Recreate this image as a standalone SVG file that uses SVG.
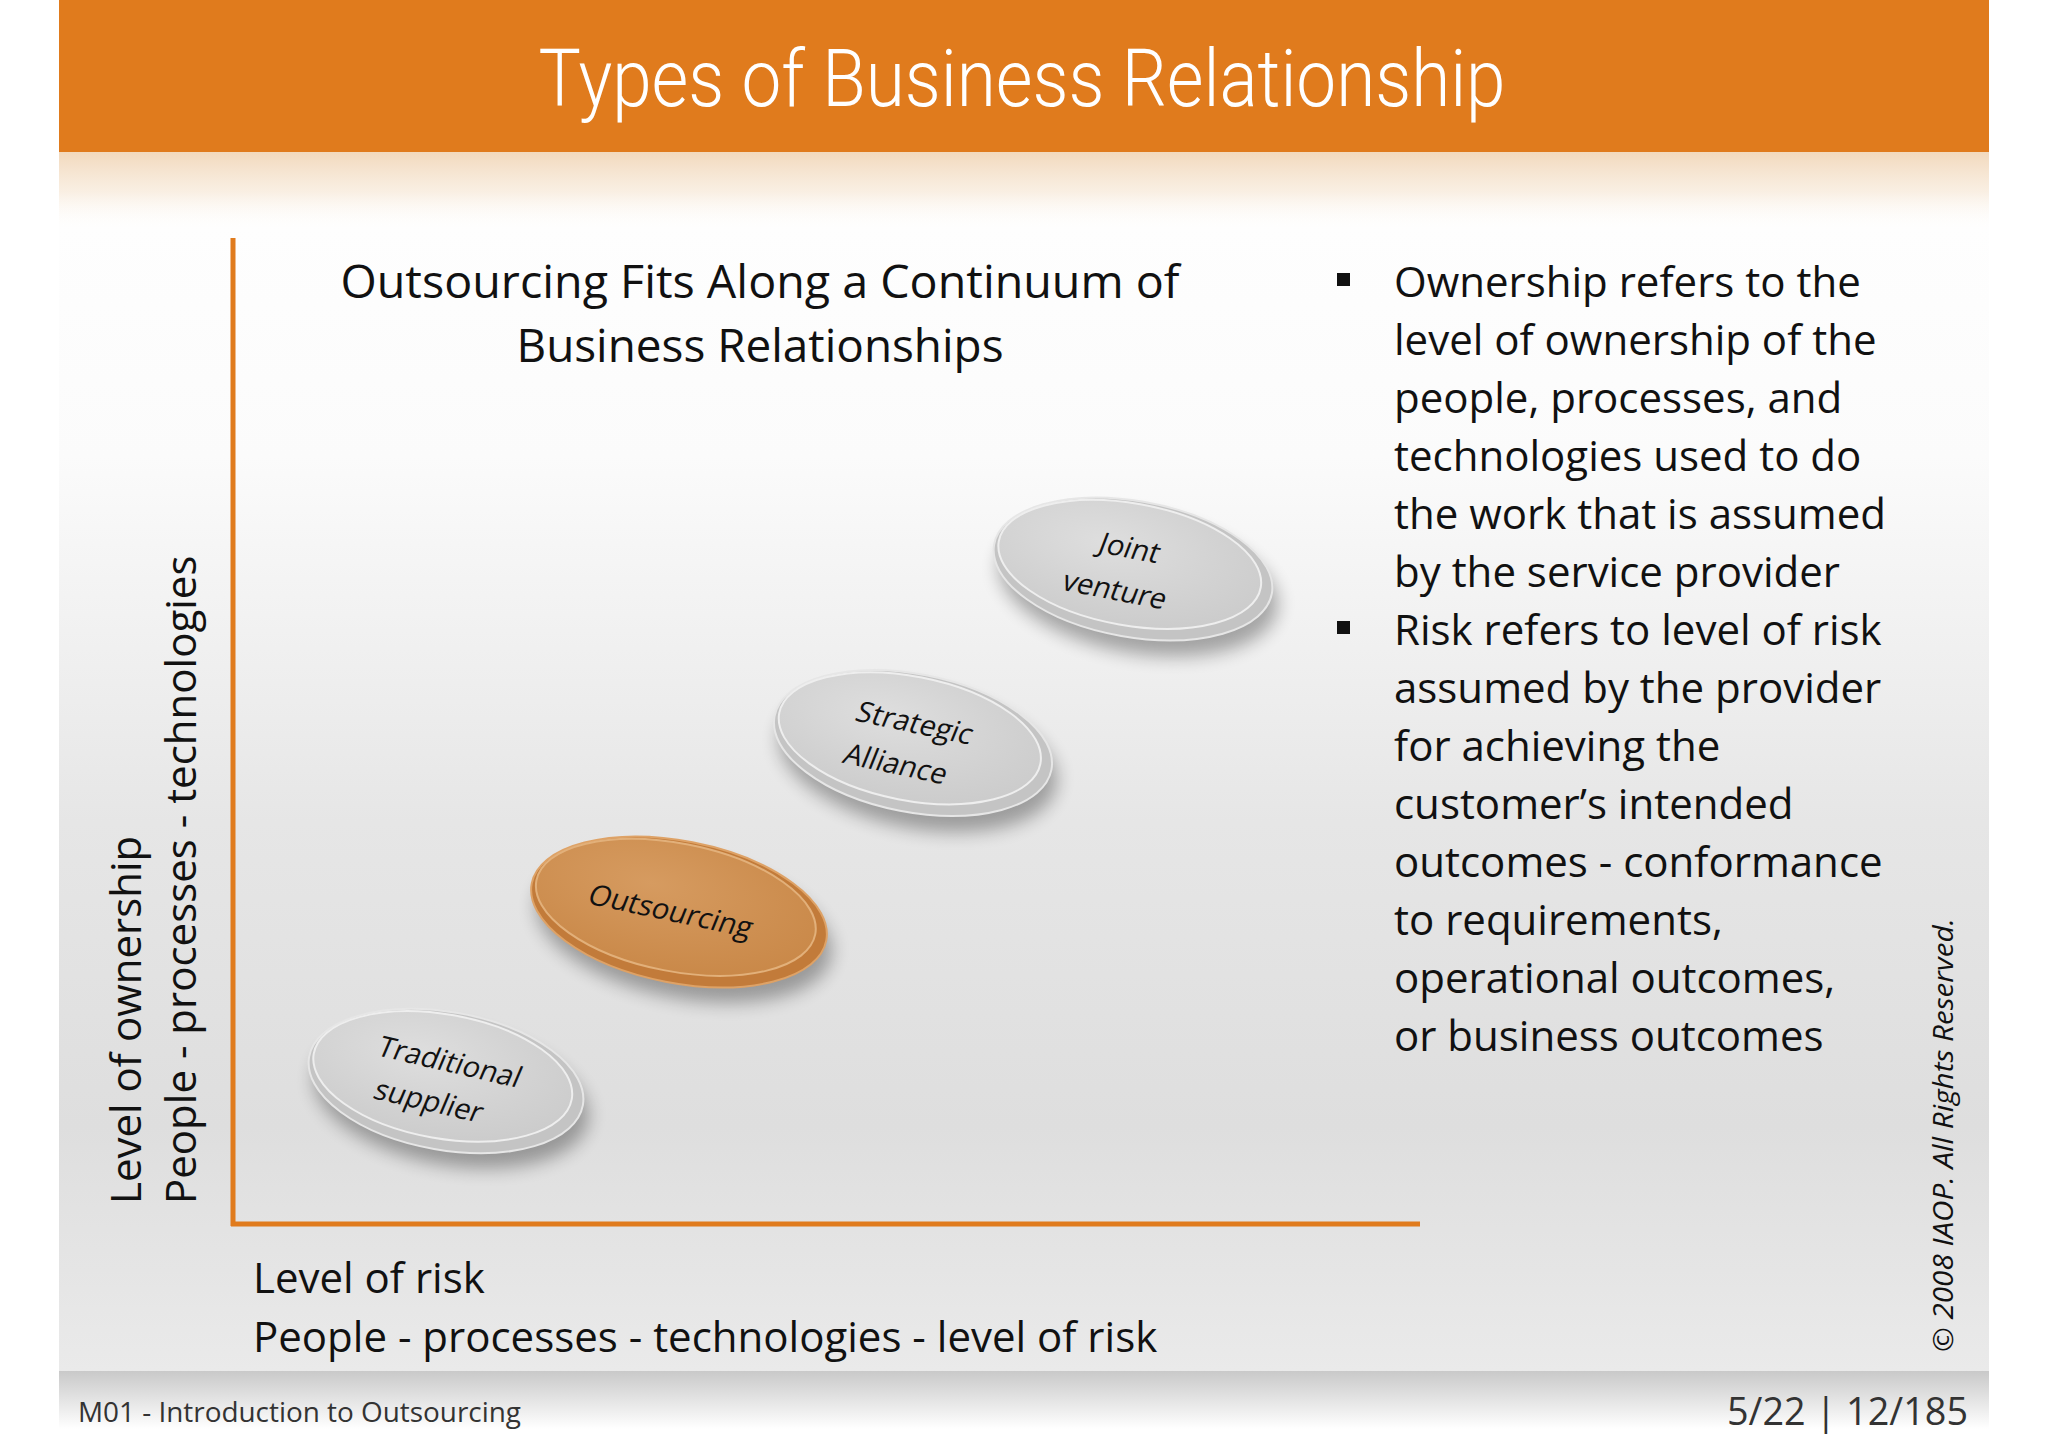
<svg xmlns="http://www.w3.org/2000/svg" width="2048" height="1448" viewBox="0 0 2048 1448">
<defs>
<style>
.t{font-family:"Open Sans","Liberation Sans",sans-serif;fill:#111}
.sub{font-size:46px;text-anchor:middle}
.bul{font-size:42px}
.ax{font-size:42px}
.lbl{font-family:"Open Sans","Liberation Sans",sans-serif;font-size:29px;fill:#111;text-anchor:middle}
.axis{stroke:#E07B1D;stroke-width:5;fill:none}
.foot{font-family:"Open Sans","Liberation Sans",sans-serif;fill:#333}
</style>
<linearGradient id="bg" x1="0" y1="152" x2="0" y2="1371" gradientUnits="userSpaceOnUse">
<stop offset="0" stop-color="#ffffff"/>
<stop offset="0.25" stop-color="#fbfbfb"/>
<stop offset="0.55" stop-color="#e6e6e6"/>
<stop offset="0.8" stop-color="#dedede"/>
<stop offset="1" stop-color="#eaeaea"/>
</linearGradient>
<linearGradient id="peach" x1="0" y1="0" x2="0" y2="1">
<stop offset="0" stop-color="#f2d9bd"/>
<stop offset="0.5" stop-color="#f8ebdc" stop-opacity="0.8"/>
<stop offset="1" stop-color="#ffffff" stop-opacity="0"/>
</linearGradient>
<linearGradient id="footg" x1="0" y1="0" x2="0" y2="1">
<stop offset="0" stop-color="#c9c9c9"/>
<stop offset="0.75" stop-color="#ffffff"/>
<stop offset="1" stop-color="#ffffff"/>
</linearGradient>
<radialGradient id="greyFace" cx="0.4" cy="0.35" r="0.7">
<stop offset="0" stop-color="#dedede"/>
<stop offset="1" stop-color="#cbcbcb"/>
</radialGradient>
<radialGradient id="orgFace" cx="0.4" cy="0.35" r="0.7">
<stop offset="0" stop-color="#d69b60"/>
<stop offset="1" stop-color="#c98848"/>
</radialGradient>
<filter id="sh" x="-30%" y="-30%" width="160%" height="170%">
<feGaussianBlur stdDeviation="9"/>
</filter>
</defs>

<rect width="2048" height="1448" fill="#ffffff"/>
<rect x="59" y="152" width="1930" height="1219" fill="url(#bg)"/>
<rect x="59" y="152" width="1930" height="80" fill="url(#peach)"/>
<rect x="59" y="1371" width="1930" height="77" fill="url(#footg)"/>

<g id="header">
<rect x="59" y="0" width="1930" height="152" fill="#E07B1D"/>
<text x="1022" y="106" font-family="Roboto,'Liberation Sans',sans-serif" font-weight="300" font-size="80" fill="#ffffff" text-anchor="middle" textLength="967" lengthAdjust="spacingAndGlyphs">Types of Business Relationship</text>
</g>

<g id="subtitle" class="t sub">
<text x="760" y="298" textLength="839" lengthAdjust="spacingAndGlyphs">Outsourcing Fits Along a Continuum of</text>
<text x="760" y="362" textLength="487" lengthAdjust="spacingAndGlyphs">Business Relationships</text>
</g>

<g id="axes">
<line class="axis" x1="233" y1="238" x2="233" y2="1226"/>
<line class="axis" x1="231" y1="1224" x2="1420" y2="1224"/>
</g>

<g id="axis-labels" class="t ax">
<text x="253" y="1293">Level of risk</text>
<text x="253" y="1352">People - processes - technologies - level of risk</text>
<text transform="translate(141 1204) rotate(-90)">Level of ownership</text>
<text transform="translate(196 1204) rotate(-90)">People - processes - technologies</text>
</g>

<g id="node-traditional" transform="translate(446 1081) rotate(10)">
<ellipse cx="8" cy="15" rx="139" ry="68" fill="#000" opacity="0.32" filter="url(#sh)"/>
<ellipse cx="0" cy="0" rx="139" ry="69" fill="#c4c4c4" stroke="#e6e6e6" stroke-width="2"/>
<ellipse cx="-4" cy="-4" rx="131" ry="62" fill="url(#greyFace)" stroke="#eeeeee" stroke-width="2"/>
</g>
<text class="lbl" transform="translate(450 1062) rotate(13) skewX(-10)" y="10">Traditional</text>
<text class="lbl" transform="translate(429 1101) rotate(13) skewX(-10)" y="10">supplier</text>

<g id="node-outsourcing" transform="translate(679 912) rotate(11)">
<ellipse cx="8" cy="15" rx="150" ry="70" fill="#000" opacity="0.32" filter="url(#sh)"/>
<ellipse cx="0" cy="0" rx="150" ry="71" fill="#c27b3a" stroke="#dea266" stroke-width="2"/>
<ellipse cx="-4" cy="-4" rx="142" ry="64" fill="url(#orgFace)" stroke="#e2b07a" stroke-width="2"/>
</g>
<text class="lbl" transform="translate(671 911) rotate(12) skewX(-10)" y="10">Outsourcing</text>

<g id="node-strategic" transform="translate(913 743) rotate(11)">
<ellipse cx="8" cy="15" rx="141" ry="69" fill="#000" opacity="0.32" filter="url(#sh)"/>
<ellipse cx="0" cy="0" rx="141" ry="69" fill="#c4c4c4" stroke="#e6e6e6" stroke-width="2"/>
<ellipse cx="-4" cy="-4" rx="133" ry="62" fill="url(#greyFace)" stroke="#eeeeee" stroke-width="2"/>
</g>
<text class="lbl" transform="translate(915 723) rotate(12) skewX(-10)" y="10">Strategic</text>
<text class="lbl" transform="translate(896 764) rotate(12) skewX(-10)" y="10">Alliance</text>

<g id="node-joint" transform="translate(1133 569) rotate(10)">
<ellipse cx="8" cy="15" rx="141" ry="68" fill="#000" opacity="0.32" filter="url(#sh)"/>
<ellipse cx="0" cy="0" rx="141" ry="68" fill="#c4c4c4" stroke="#e6e6e6" stroke-width="2"/>
<ellipse cx="-4" cy="-4" rx="133" ry="61" fill="url(#greyFace)" stroke="#eeeeee" stroke-width="2"/>
</g>
<text class="lbl" transform="translate(1130 548) rotate(11) skewX(-10)" y="10">Joint</text>
<text class="lbl" transform="translate(1115 590) rotate(11) skewX(-10)" y="10">venture</text>

<g id="bullets" class="t bul">
<rect x="1337" y="273" width="13" height="13" fill="#111"/>
<rect x="1337" y="621" width="13" height="13" fill="#111"/>
<text x="1394" y="297">Ownership refers to the</text>
<text x="1394" y="355">level of ownership of the</text>
<text x="1394" y="413">people, processes, and</text>
<text x="1394" y="471">technologies used to do</text>
<text x="1394" y="529">the work that is assumed</text>
<text x="1394" y="587">by the service provider</text>
<text x="1394" y="645">Risk refers to level of risk</text>
<text x="1394" y="703">assumed by the provider</text>
<text x="1394" y="761">for achieving the</text>
<text x="1394" y="819">customer’s intended</text>
<text x="1394" y="877">outcomes - conformance</text>
<text x="1394" y="935">to requirements,</text>
<text x="1394" y="993">operational outcomes,</text>
<text x="1394" y="1051">or business outcomes</text>
</g>

<text id="copyright" transform="translate(1953 1352) rotate(-90)" font-family="'Open Sans','Liberation Sans',sans-serif" font-style="italic" font-size="28" fill="#111" textLength="434" lengthAdjust="spacingAndGlyphs">© 2008 IAOP. All Rights Reserved.</text>

<g id="footer">
<text class="foot" x="78" y="1422" font-size="27" textLength="443" lengthAdjust="spacingAndGlyphs">M01 - Introduction to Outsourcing</text>
<text class="foot" x="1968" y="1425" font-size="38" text-anchor="end" textLength="241" lengthAdjust="spacingAndGlyphs">5/22 | 12/185</text>
</g>
</svg>
